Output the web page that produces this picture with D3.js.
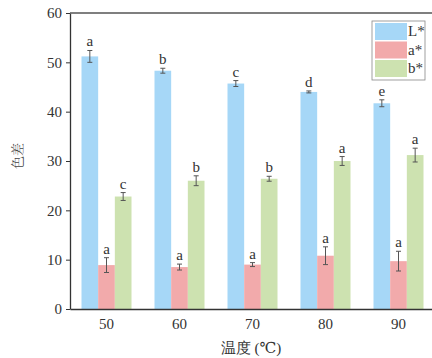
<!DOCTYPE html>
<html>
<head>
<meta charset="utf-8">
<script src="https://cdn.jsdelivr.net/npm/d3@7"></script>
<style>
  body { margin: 0; background: #fff; }
</style>
</head>
<body>
<svg id="chart" width="432" height="358"></svg>
<script>
// data
var temps = ["50", "60", "70", "80", "90"];
var series = ["L*", "a*", "b*"];
var valL = [51.2, 48.3, 45.7, 44.0, 41.7];
var valA = [8.9, 8.5, 9.0, 10.8, 9.7];
var valB = [22.8, 26.0, 26.4, 30.0, 31.2];
var errL = [1.2, 0.5, 0.6, 0.2, 0.7];
var errA = [1.5, 0.6, 0.4, 1.8, 2.0];
var errB = [0.8, 1.0, 0.5, 0.9, 1.4];
var sigL = ["a", "b", "c", "d", "e"];
var sigA = ["a", "a", "a", "a", "a"];
var sigB = ["c", "b", "b", "a", "a"];
var yTicks = [0, 10, 20, 30, 40, 50, 60];
var colors = ["#a6d7f7", "#f2aaab", "#cde2b0"];

var serif = "'Liberation Serif', 'DejaVu Serif', serif";
var svg = d3.select("#chart");
var mLeft = 70, mTop = 13, mBottom = 309, mRight = 435;

var x = d3.scaleBand().domain(temps).range([mLeft, mRight])
    .paddingInner(0.315).paddingOuter(0.1575);
var xs = d3.scaleBand().domain(series).range([0, x.bandwidth()]);
var y = d3.scaleLinear().domain([0, 60]).range([mBottom, mTop]);

var vals = [valL, valA, valB], errs = [errL, errA, errB], sigs = [sigL, sigA, sigB];
var rows = [];
temps.forEach(function (t, i) {
    series.forEach(function (s, j) {
        rows.push({ t: t, s: s, j: j, v: vals[j][i], e: errs[j][i], sig: sigs[j][i] });
    });
});

// bars
svg.append("g").selectAll("rect")
    .data(rows)
    .enter().append("rect")
    .attr("x", function (d) { return x(d.t) + xs(d.s); })
    .attr("y", function (d) { return y(d.v); })
    .attr("width", xs.bandwidth())
    .attr("height", function (d) { return y(0) - y(d.v); })
    .attr("fill", function (d) { return colors[d.j]; });

// error bars
var eb = svg.append("g").attr("stroke", "#555").attr("stroke-width", 1);
rows.forEach(function (d) {
    var cx = x(d.t) + xs(d.s) + xs.bandwidth() / 2;
    eb.append("line").attr("x1", cx).attr("x2", cx).attr("y1", y(d.v - d.e)).attr("y2", y(d.v + d.e));
    eb.append("line").attr("x1", cx - 2.5).attr("x2", cx + 2.5).attr("y1", y(d.v - d.e)).attr("y2", y(d.v - d.e));
    eb.append("line").attr("x1", cx - 2.5).attr("x2", cx + 2.5).attr("y1", y(d.v + d.e)).attr("y2", y(d.v + d.e));
});

// significance letters
svg.append("g").selectAll("text")
    .data(rows)
    .enter().append("text")
    .attr("x", function (d) { return x(d.t) + xs(d.s) + xs.bandwidth() / 2; })
    .attr("y", function (d) { return y(d.v + d.e) - 4; })
    .attr("text-anchor", "middle")
    .style("font-family", serif)
    .style("font-size", "15px")
    .attr("fill", "#333")
    .text(function (d) { return d.sig; });

// axes
var yAxis = svg.append("g")
    .attr("transform", "translate(" + mLeft + ",0)")
    .call(d3.axisLeft(y).tickValues(yTicks).tickSize(4).tickPadding(4).tickSizeOuter(0));
yAxis.selectAll("text").style("font-family", serif).style("font-size", "15px").attr("fill", "#333");
yAxis.selectAll("line").attr("stroke", "#333");
yAxis.select(".domain").attr("stroke", "#333").attr("stroke-width", 1.3);

var xAxis = svg.append("g")
    .attr("transform", "translate(0," + mBottom + ")")
    .call(d3.axisBottom(x).tickSize(0).tickPadding(9));
xAxis.selectAll("text").style("font-family", serif).style("font-size", "15px").attr("fill", "#333");
xAxis.select(".domain").attr("stroke", "#333").attr("stroke-width", 1.3);

svg.append("line")
    .attr("x1", mLeft).attr("x2", 432).attr("y1", mTop).attr("y2", mTop)
    .attr("stroke", "#555").attr("stroke-width", 1.3);

// axis titles
svg.append("text")
    .attr("transform", "translate(22,156) rotate(-90)")
    .attr("text-anchor", "middle")
    .style("font-family", "'Noto Serif CJK SC', 'Noto Sans CJK SC', sans-serif")
    .style("font-size", "13px")
    .attr("fill", "#444")
    .text("色差");

svg.append("text")
    .attr("x", 251).attr("y", 353)
    .attr("text-anchor", "middle")
    .style("font-family", serif)
    .style("font-size", "15px")
    .attr("fill", "#333")
    .text("温度 (℃)");

// legend
var lg = svg.append("g").attr("transform", "translate(372,21)");
lg.append("rect").attr("width", 53).attr("height", 59)
    .attr("fill", "#fff").attr("stroke", "#888").attr("stroke-width", 0.8);
series.forEach(function (s, j) {
    lg.append("rect").attr("x", 3).attr("y", 2 + j * 18.5)
        .attr("width", 32).attr("height", 17).attr("fill", colors[j]);
    lg.append("text").attr("x", 36).attr("y", 15 + j * 18.5)
        .style("font-family", serif)
        .style("font-size", "15px").attr("fill", "#333").text(s);
});
</script>
</body>
</html>
